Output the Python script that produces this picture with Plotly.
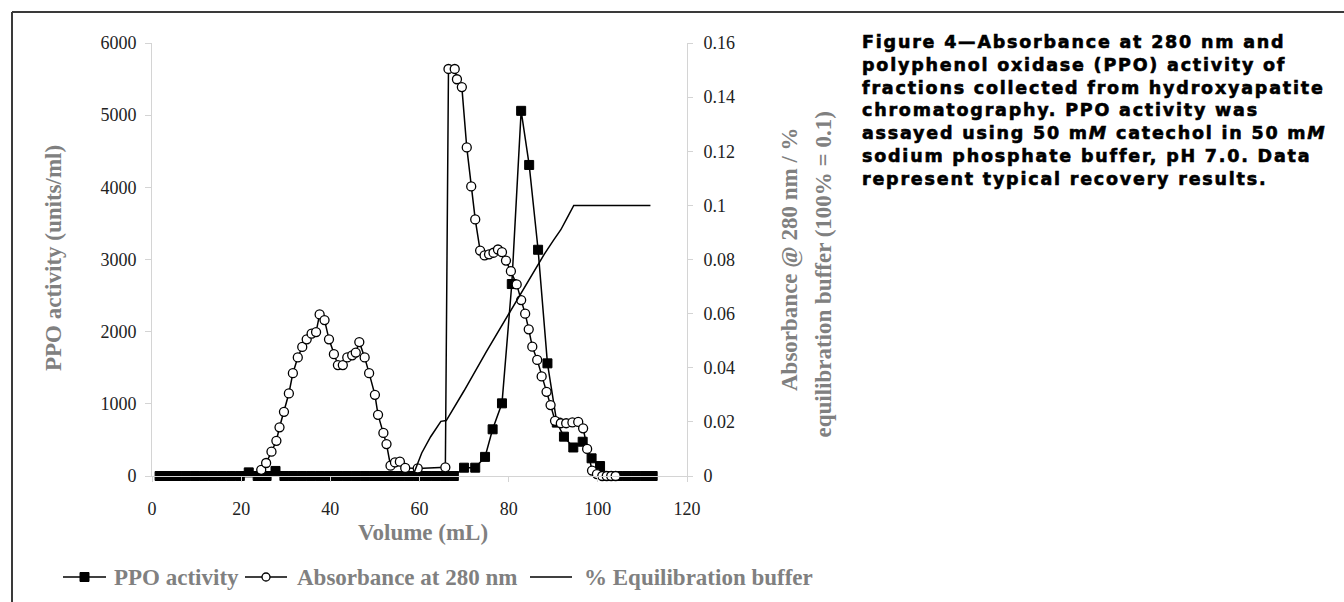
import plotly.graph_objects as go

# ---------------- data ----------------
ppo_volume = [1.7, 3.7, 5.7, 7.7, 9.7, 11.7, 13.7, 15.7, 17.7, 19.7, 21.7, 23.7, 25.7, 27.7,
              29.7, 31.7, 33.7, 35.7, 37.7, 39.7, 41.7, 43.7, 45.7, 47.7, 49.7, 51.7, 53.7,
              55.7, 57.7, 59.7, 61.7, 63.7, 65.7, 67.7, 70.0, 72.5, 74.7, 76.4, 78.5, 80.7,
              82.8, 84.6, 86.6, 88.7, 90.8, 92.4, 94.5, 96.6, 98.6, 100.5, 102.5, 104.5,
              106.5, 108.5, 110.5, 112.3]
ppo_activity = [0, 0, 0, 0, 0, 0, 0, 0, 0, 0, 50, 0, 0, 70,
                0, 0, 0, 0, 0, 0, 0, 0, 0, 0, 0, 0, 0,
                0, 0, 0, 0, 0, 0, 0, 115, 115, 265, 647, 1007, 2660,
                5060, 4310, 3135, 1561, 740, 545, 395, 475, 245, 138, 0, 0,
                0, 0, 0, 0]

abs_volume = [24.5, 25.6, 26.8, 27.9, 28.6, 29.6, 30.7, 31.6, 32.7, 33.7, 34.7, 35.8, 36.8,
              37.6, 38.7, 39.7, 40.8, 41.7, 42.8, 43.8, 44.9, 45.7, 46.5, 47.7, 48.7, 50.0,
              50.7, 51.9, 52.6, 53.5, 54.5, 55.6, 56.8, 59.6, 65.8, 66.5, 67.9, 68.4, 69.5,
              70.6, 71.6, 72.5, 73.6, 74.6, 75.6, 76.6, 77.6, 78.5, 79.4, 80.5, 81.8, 82.8,
              83.7, 84.5, 85.3, 86.4, 87.4, 88.5, 89.4, 90.4, 91.7, 92.9, 94.3, 95.6, 96.7,
              97.6, 98.7, 99.8, 101.0, 102.0, 103.0, 104.0]
absorbance = [0.0023, 0.0048, 0.009, 0.013, 0.018, 0.0237, 0.0305, 0.038, 0.0438, 0.0477,
              0.0505, 0.0526, 0.0532, 0.0597, 0.0576, 0.0505, 0.045, 0.041, 0.041, 0.0438,
              0.0446, 0.0456, 0.0495, 0.0438, 0.038, 0.030, 0.0226, 0.0159, 0.0118, 0.0038,
              0.005, 0.0053, 0.003, 0.0028, 0.0032, 0.1504, 0.1504, 0.1466, 0.1437, 0.1214,
              0.107, 0.0948, 0.0833, 0.0815, 0.0819, 0.0825, 0.0837, 0.0827, 0.0796, 0.0757,
              0.0708, 0.065, 0.060, 0.0542, 0.0478, 0.0429, 0.0368, 0.0311, 0.0262, 0.0204,
              0.0195, 0.0195, 0.0198, 0.020, 0.0176, 0.010, 0.002, 0.0007, 0.0, 0.0, 0.0, 0.0]

buffer_volume = [58.5, 60.5, 62.5, 64.8, 66.0, 70.0, 75.0, 80.0, 85.0, 88.0, 90.0, 91.7,
                 93.0, 94.6, 100.0, 105.0, 111.8]
buffer_level = [0.0, 0.0085, 0.0145, 0.0202, 0.0205, 0.0315, 0.046, 0.060, 0.074, 0.082,
                0.087, 0.091, 0.095, 0.100, 0.100, 0.100, 0.100]

x_ticks = [0, 20, 40, 60, 80, 100, 120]
y1_ticks = [0, 1000, 2000, 3000, 4000, 5000, 6000]
y2_ticks = [0, 0.02, 0.04, 0.06, 0.08, 0.10, 0.12, 0.14, 0.16]
y2_tick_text = ["0", "0.02", "0.04", "0.06", "0.08", "0.1", "0.12", "0.14", "0.16"]

series_names = ["PPO activity", "Absorbance at 280 nm", "% Equilibration buffer"]
x_title = "Volume (mL)"
y1_title = "PPO activity (units/ml)"
y2_title_lines = ["Absorbance @ 280 nm / %", "equilibration buffer (100% = 0.1)"]
caption_lines = [
    "Figure 4\u2014Absorbance at 280 nm and",
    "polyphenol oxidase (PPO) activity of",
    "fractions collected from hydroxyapatite",
    "chromatography. PPO activity was",
    "assayed using 50 m<i>M</i> catechol in 50 m<i>M</i>",
    "sodium phosphate buffer, pH 7.0. Data",
    "represent typical recovery results.",
]

# ---------------- layout geometry (pixels) ----------------
W, H = 1344, 602
L, R, T, B = 152, 687, 43, 476


def px(xp):
    return (xp - L) / (R - L)


def py(yp):
    return (B - yp) / (B - T)


SERIF = "Liberation Serif"
GRAY_TITLE = "#808080"
AXIS_GRAY = "#d4d4d4"
TICK_FONT = dict(family=SERIF, size=18, color="#222222")

fig = go.Figure()

fig.add_trace(go.Scatter(
    x=ppo_volume, y=ppo_activity, name=series_names[0], mode="lines+markers",
    line=dict(color="black", width=1.5),
    marker=dict(symbol="square", size=9, color="black", line=dict(color="black", width=1)),
    cliponaxis=False, yaxis="y", showlegend=False))

fig.add_trace(go.Scatter(
    x=abs_volume, y=absorbance, name=series_names[1], mode="lines+markers",
    line=dict(color="black", width=1.5),
    marker=dict(symbol="circle", size=9, color="white", line=dict(color="black", width=1.3)),
    cliponaxis=False, yaxis="y2", showlegend=False))

fig.add_trace(go.Scatter(
    x=buffer_volume, y=buffer_level, name=series_names[2], mode="lines",
    line=dict(color="black", width=1.5),
    cliponaxis=False, yaxis="y2", showlegend=False))

fig.update_layout(
    width=W, height=H,
    margin=dict(l=L, r=W - R, t=T, b=H - B, pad=0),
    paper_bgcolor="white", plot_bgcolor="white",
    showlegend=False,
    xaxis=dict(range=[0, 120], tickvals=x_ticks, showgrid=False, zeroline=False,
               showline=True, linecolor=AXIS_GRAY, linewidth=1,
               ticks="outside", ticklen=5, tickcolor=AXIS_GRAY, tickfont=TICK_FONT,
               ticklabelstandoff=11),
    yaxis=dict(range=[0, 6000], tickvals=y1_ticks, showgrid=False, zeroline=False,
               showline=True, linecolor=AXIS_GRAY, linewidth=1,
               ticks="outside", ticklen=6, tickcolor=AXIS_GRAY, tickfont=TICK_FONT,
               ticklabelstandoff=5),
    yaxis2=dict(range=[0, 0.16], tickvals=y2_ticks, ticktext=y2_tick_text, overlaying="y",
                side="right", showgrid=False, zeroline=False,
                showline=True, linecolor=AXIS_GRAY, linewidth=1,
                ticks="outside", ticklen=5, tickcolor=AXIS_GRAY, tickfont=TICK_FONT,
                ticklabelstandoff=7),
)

annotations = []
title_font = dict(family=SERIF, size=23, color=GRAY_TITLE, weight="bold")
annotations.append(dict(text=y1_title, x=px(53), y=py(258), xref="paper", yref="paper",
                        textangle=-90, showarrow=False, font=title_font,
                        xanchor="center", yanchor="middle"))
annotations.append(dict(text=y2_title_lines[0], x=px(790), y=py(259), xref="paper", yref="paper",
                        textangle=-90, showarrow=False, font=title_font,
                        xanchor="center", yanchor="middle"))
annotations.append(dict(text=y2_title_lines[1], x=px(823), y=py(274.5), xref="paper", yref="paper",
                        textangle=-90, showarrow=False, font=title_font,
                        xanchor="center", yanchor="middle"))
annotations.append(dict(text=x_title, x=px(422.5), y=py(532), xref="paper", yref="paper",
                        showarrow=False, font=title_font, xanchor="center", yanchor="middle"))

# caption: one multi-line text block (heavy, slightly tracked)
caption_html = "<br>".join(
    '<span style="letter-spacing:1.8px;stroke:black;stroke-width:0.6px">' + ln + "</span>"
    for ln in caption_lines)
annotations.append(dict(text=caption_html, x=px(860), y=py(30), xref="paper", yref="paper",
                        showarrow=False, xanchor="left", yanchor="top", align="left",
                        font=dict(family="DejaVu Sans", size=17.5, color="black",
                                  weight="bold")))

# legend drawn below the axis title
legend_font = dict(family=SERIF, size=23, color=GRAY_TITLE, weight="bold")
legend_y = 577
legend_line_x = [(63, 106), (245, 287), (530, 572)]
legend_text_x = [112, 295, 582]
shapes = []
for (x0, x1), tx, name in zip(legend_line_x, legend_text_x, series_names):
    shapes.append(dict(type="line", xref="paper", yref="paper", x0=px(x0), x1=px(x1),
                       y0=py(legend_y), y1=py(legend_y), line=dict(color="black", width=1.5)))
    annotations.append(dict(text=name, x=px(tx), y=py(legend_y), xref="paper", yref="paper",
                            showarrow=False, xanchor="left", yanchor="middle",
                            font=legend_font))
# legend symbols
cx = (legend_line_x[0][0] + legend_line_x[0][1]) / 2
shapes.append(dict(type="rect", xref="paper", yref="paper", x0=px(cx - 4.5), x1=px(cx + 4.5),
                   y0=py(legend_y - 4.5), y1=py(legend_y + 4.5),
                   line=dict(color="black", width=1), fillcolor="black"))
cx = (legend_line_x[1][0] + legend_line_x[1][1]) / 2
shapes.append(dict(type="circle", xref="paper", yref="paper", x0=px(cx - 4), x1=px(cx + 4),
                   y0=py(legend_y - 4), y1=py(legend_y + 4),
                   line=dict(color="black", width=1.3), fillcolor="white"))

# outer frame (top and left edges visible)
shapes.append(dict(type="line", xref="paper", yref="paper", x0=px(12), x1=px(W + 20),
                   y0=py(12), y1=py(12), line=dict(color="#3a3a3a", width=2)))
shapes.append(dict(type="line", xref="paper", yref="paper", x0=px(12), x1=px(12),
                   y0=py(12), y1=py(H + 20), line=dict(color="#3a3a3a", width=2)))

fig.update_layout(annotations=annotations, shapes=shapes)

fig.write_html("out.html")
